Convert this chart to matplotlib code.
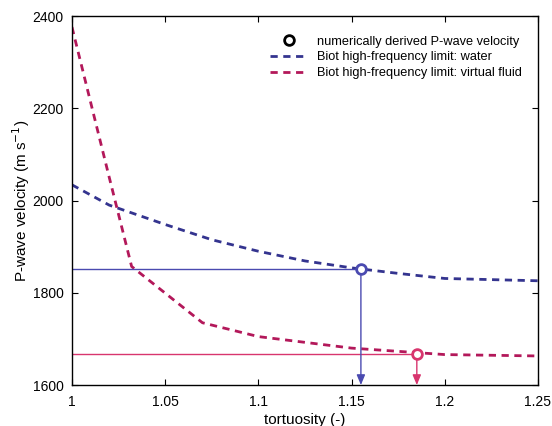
import numpy as np
import matplotlib.pyplot as plt
from matplotlib.lines import Line2D

plt.rcParams['font.family'] = ['Liberation Sans', 'DejaVu Sans']

# tortuosity samples and Biot high-frequency limits
tort_water = [1.0, 1.02, 1.05, 1.075, 1.1, 1.125, 1.15, 1.175, 1.2, 1.25]
vp_water = [2034, 1990, 1948, 1915, 1890, 1869, 1854, 1842, 1831, 1826]

tort_virtual = [1.0, 1.02, 1.032, 1.07, 1.1, 1.15, 1.2, 1.25]
vp_virtual = [2376, 2050, 1857, 1735, 1705, 1680, 1666, 1663]

# numerically derived P-wave velocities
num_tort = [1.155, 1.185]
num_vp = [1852, 1668]

xticks = [1.0, 1.05, 1.1, 1.15, 1.2, 1.25]
xticklabels = ['1', '1.05', '1.1', '1.15', '1.2', '1.25']
yticks = [1600, 1800, 2000, 2200, 2400]

c_water = '#34348f'
c_virtual = '#b3185a'
c_water_thin = '#4a4ab0'
c_virtual_thin = '#d8356e'

fig = plt.figure(figsize=(5.52, 4.26), dpi=100)
ax = fig.add_axes([0.1304, 0.0962, 0.8442, 0.8662])

ax.plot(tort_water, vp_water, color=c_water, lw=2.0, dashes=(2.6, 2.0))
ax.plot(tort_virtual, vp_virtual, color=c_virtual, lw=2.0, dashes=(2.6, 2.0))

for xx, yy, ct in zip(num_tort, num_vp, [c_water_thin, c_virtual_thin]):
    ax.plot([1.0, xx], [yy, yy], color=ct, lw=1.0)
    ax.annotate('', xy=(xx, 1600), xytext=(xx, yy),
                arrowprops=dict(arrowstyle='-|>,head_length=0.6,head_width=0.25',
                                color=ct, lw=1.0, mutation_scale=10,
                                shrinkA=0, shrinkB=0))
    ax.plot(xx, yy, 'o', ms=7, mfc='white', mec=ct, mew=2.0, zorder=5)

ax.set_xlim(1.0, 1.25)
ax.set_ylim(1600, 2400)
ax.set_xticks(xticks)
ax.set_xticklabels(xticklabels)
ax.set_yticks(yticks)
ax.tick_params(direction='in', top=True, right=True, length=4, labelsize=10)
ax.tick_params(axis='x', pad=7)
ax.tick_params(axis='y', pad=6)
for s in ax.spines.values():
    s.set_linewidth(1.0)

ax.set_xlabel('tortuosity (-)', fontsize=11, labelpad=3)
ax.set_ylabel('P-wave velocity (m s$^{-1}$)', fontsize=11, labelpad=0)

handles = [
    Line2D([], [], ls='none', marker='o', ms=7, mfc='white', mec='black', mew=2.0),
    Line2D([], [], color=c_water, lw=2.0, dashes=(2.6, 2.0)),
    Line2D([], [], color=c_virtual, lw=2.0, dashes=(2.6, 2.0)),
]
labels = ['numerically derived P-wave velocity',
          'Biot high-frequency limit: water',
          'Biot high-frequency limit: virtual fluid']
ax.legend(handles, labels, loc='upper left', bbox_to_anchor=(0.425, 0.947),
          frameon=False, fontsize=9.2, borderpad=0, borderaxespad=0,
          handlelength=2.9, handletextpad=0.75, labelspacing=0.3)

fig.savefig('out.png', dpi=100)
